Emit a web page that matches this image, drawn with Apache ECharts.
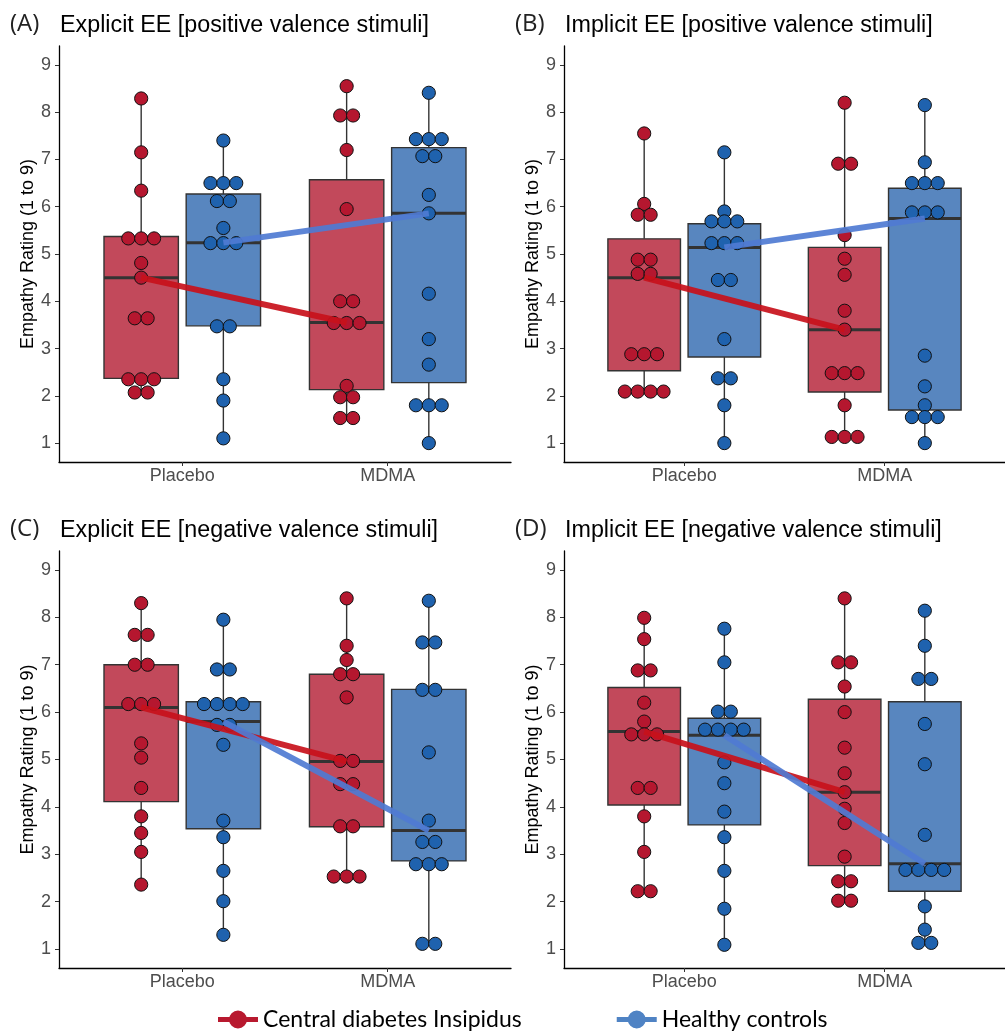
<!DOCTYPE html>
<html><head><meta charset="utf-8">
<script src="https://cdn.jsdelivr.net/npm/echarts@6/dist/echarts.min.js"></script>
<style>html,body{margin:0;padding:0;background:#fff}#c{width:1005px;height:1034px}</style>
</head><body><div id="c"></div>
<script>
// ---------- DATA ----------
const categories = ['Placebo', 'MDMA'];
const groups = ['Central diabetes Insipidus', 'Healthy controls'];
const yTicks = [1, 2, 3, 4, 5, 6, 7, 8, 9];
const panelLetters = ['(A)', '(B)', '(C)', '(D)'];
const panelTitles = [
  'Explicit EE [positive valence stimuli]',
  'Implicit EE [positive valence stimuli]',
  'Explicit EE [negative valence stimuli]',
  'Implicit EE [negative valence stimuli]'
];

// Panel A: Explicit, positive
const A_cdiPlacebo = [8.29, 7.15, 6.34, 5.33, 5.33, 5.33, 4.81, 4.50, 3.64, 3.64, 2.35, 2.35, 2.35, 2.07, 2.07];
const A_hcPlacebo  = [7.40, 6.50, 6.50, 6.50, 6.12, 6.12, 5.55, 5.23, 5.23, 5.23, 3.47, 3.47, 2.35, 1.90, 1.10];
const A_cdiMDMA    = [8.55, 7.93, 7.93, 7.20, 5.95, 4.00, 4.00, 3.54, 3.54, 3.54, 2.21, 1.97, 1.97, 1.53, 1.53];
const A_hcMDMA     = [8.41, 7.43, 7.43, 7.43, 7.07, 7.07, 6.25, 5.86, 4.16, 3.20, 2.66, 1.80, 1.80, 1.80, 1.00];
// box [q1, median, q3] in order cdiPlacebo, hcPlacebo, cdiMDMA, hcMDMA
const A_boxes = [[2.37, 4.50, 5.37], [3.48, 5.24, 6.27], [2.13, 3.55, 6.57], [2.28, 5.86, 7.25]];

// Panel B: Implicit, positive
const B_cdiPlacebo = [7.55, 6.06, 5.83, 5.83, 4.88, 4.88, 4.58, 4.58, 2.88, 2.88, 2.88, 2.09, 2.09, 2.09, 2.09];
const B_hcPlacebo  = [7.15, 5.90, 5.69, 5.69, 5.69, 5.23, 5.23, 5.23, 4.45, 4.45, 3.20, 2.37, 2.37, 1.80, 1.00];
const B_cdiMDMA    = [8.20, 6.91, 6.91, 5.40, 4.90, 4.56, 3.80, 3.40, 2.48, 2.48, 2.48, 1.80, 1.13, 1.13, 1.13];
const B_hcMDMA     = [8.15, 6.94, 6.50, 6.50, 6.50, 5.88, 5.88, 5.88, 2.85, 2.20, 1.80, 1.55, 1.55, 1.55, 1.00];
const B_boxes = [[2.53, 4.50, 5.32], [2.82, 5.14, 5.64], [2.08, 3.40, 5.14], [1.70, 5.75, 6.39]];

// Panel C: Explicit, negative
const C_cdiPlacebo = [8.30, 7.63, 7.63, 7.00, 7.00, 6.17, 6.17, 6.17, 5.34, 5.04, 4.40, 3.80, 3.45, 3.05, 2.36];
const C_hcPlacebo  = [7.95, 6.90, 6.90, 6.17, 6.17, 6.17, 6.17, 5.73, 5.73, 5.31, 3.71, 3.36, 2.65, 2.01, 1.30];
const C_cdiMDMA    = [8.40, 7.40, 7.10, 6.80, 6.80, 6.31, 4.97, 4.97, 4.48, 4.48, 3.59, 3.59, 2.53, 2.53, 2.53];
const C_hcMDMA     = [8.35, 7.47, 7.47, 6.47, 6.47, 5.15, 3.71, 3.26, 3.26, 2.79, 2.79, 2.79, 1.11, 1.11];
const C_boxes = [[4.11, 6.10, 7.00], [3.54, 5.80, 6.22], [3.58, 4.96, 6.80], [2.86, 3.50, 6.48]];

// Panel D: Implicit, negative
const D_cdiPlacebo = [7.99, 7.54, 6.88, 6.88, 6.20, 5.80, 5.53, 5.53, 5.53, 4.40, 4.40, 3.80, 3.05, 2.22, 2.22];
const D_hcPlacebo  = [7.76, 7.05, 6.01, 6.01, 5.63, 5.63, 5.63, 5.63, 4.94, 4.50, 3.90, 3.36, 2.65, 1.85, 1.09];
const D_cdiMDMA    = [8.40, 7.05, 7.05, 6.54, 6.00, 5.25, 4.71, 4.31, 3.96, 3.66, 2.95, 2.43, 2.43, 2.02, 2.02];
const D_hcMDMA     = [8.14, 7.40, 6.70, 6.70, 5.75, 4.90, 3.41, 2.67, 2.67, 2.67, 2.67, 1.90, 1.41, 1.13, 1.13];
const D_boxes = [[4.04, 5.59, 6.52], [3.62, 5.51, 5.87], [2.76, 4.31, 6.27], [2.22, 2.80, 6.22]];

// ---------- STYLE / LAYOUT ----------
const dotColors = ['#b5172f', '#1f62ae'];
const boxColors = ['#c2495b', '#5886bf'];
const trendColors = ['#c8111b', '#4f7bd2'];
const legendColors = ['#b8192f', '#4f83c4'];
const grids = [
  {left: 59, top: 46, width: 452, height: 416},
  {left: 564, top: 46, width: 452, height: 416},
  {left: 59, top: 551, width: 452, height: 417},
  {left: 564, top: 551, width: 452, height: 417}
];
const dodge = 0.2, boxHalf = 0.181, dotSpacing = 12.9, dotR = 6.6;
const AXF = "'Liberation Sans', Arial, sans-serif";

const panelDots = [
  [A_cdiPlacebo, A_hcPlacebo, A_cdiMDMA, A_hcMDMA],
  [B_cdiPlacebo, B_hcPlacebo, B_cdiMDMA, B_hcMDMA],
  [C_cdiPlacebo, C_hcPlacebo, C_cdiMDMA, C_hcMDMA],
  [D_cdiPlacebo, D_hcPlacebo, D_cdiMDMA, D_hcMDMA]
];
const panelBoxes = [A_boxes, B_boxes, C_boxes, D_boxes];
// group index k: 0 cdiPlacebo, 1 hcPlacebo, 2 cdiMDMA, 3 hcMDMA
function groupX(k) { const cat = k < 2 ? 1 : 2; const g = k % 2; return cat + (g === 0 ? -dodge : dodge); }

const xAxes = [], yAxes = [], series = [], graphics = [];
grids.forEach((g, p) => {
  xAxes.push({
    type: 'value', gridIndex: p, min: 0.4, max: 2.6,
    axisLine: {show: true, lineStyle: {color: '#000', width: 1.3}},
    axisTick: {show: true, length: 4, lineStyle: {color: '#333'}, customValues: [1, 2]},
    axisLabel: {customValues: [1, 2], formatter: v => categories[Math.round(v) - 1] || '',
      fontSize: 18, color: '#4d4d4d', fontFamily: AXF, margin: 5},
    splitLine: {show: false}
  });
  yAxes.push({
    type: 'value', gridIndex: p, min: 0.6, max: 9.4,
    name: 'Empathy Rating (1 to 9)', nameLocation: 'middle', nameGap: 21,
    nameTextStyle: {fontSize: 18, color: '#000', fontFamily: AXF},
    axisLine: {show: true, lineStyle: {color: '#000', width: 1.3}},
    axisTick: {show: true, length: 4, lineStyle: {color: '#333'}, customValues: yTicks},
    axisLabel: {customValues: yTicks, fontSize: 18, color: '#4d4d4d', fontFamily: AXF, margin: 8},
    splitLine: {show: false}
  });

  const dots = panelDots[p];
  const boxes = panelBoxes[p];
  // boxes + whiskers
  const boxData = boxes.map((b, k) => [groupX(k), Math.min(...dots[k]), b[0], b[1], b[2], Math.max(...dots[k]), k % 2]);
  series.push({
    type: 'custom', xAxisIndex: p, yAxisIndex: p, z: 2, silent: true,
    data: boxData,
    renderItem: (params, api) => {
      const x = api.value(0), ci = api.value(6);
      const pMin = api.coord([x, api.value(1)]), pQ1 = api.coord([x, api.value(2)]);
      const pMed = api.coord([x, api.value(3)]), pQ3 = api.coord([x, api.value(4)]);
      const pMax = api.coord([x, api.value(5)]);
      const xl = api.coord([x - boxHalf, 0])[0], xr = api.coord([x + boxHalf, 0])[0];
      return {type: 'group', children: [
        {type: 'line', shape: {x1: pMin[0], y1: pMin[1], x2: pQ1[0], y2: pQ1[1]}, style: {stroke: '#333', lineWidth: 1.4}},
        {type: 'line', shape: {x1: pQ3[0], y1: pQ3[1], x2: pMax[0], y2: pMax[1]}, style: {stroke: '#333', lineWidth: 1.4}},
        {type: 'rect', shape: {x: xl, y: pQ3[1], width: xr - xl, height: pQ1[1] - pQ3[1]},
          style: {fill: boxColors[ci], stroke: '#333', lineWidth: 1.4}},
        {type: 'line', shape: {x1: xl, y1: pMed[1], x2: xr, y2: pMed[1]}, style: {stroke: '#333', lineWidth: 3}}
      ]};
    }
  });
  // dots (centered horizontal stacks of equal values)
  const dotData = [];
  dots.forEach((arr, k) => {
    const counts = {};
    arr.forEach(v => { counts[v] = (counts[v] || 0) + 1; });
    const seen = {};
    arr.forEach(v => {
      const idx = seen[v] || 0; seen[v] = idx + 1;
      dotData.push([groupX(k), v, idx, counts[v], k % 2]);
    });
  });
  series.push({
    type: 'custom', xAxisIndex: p, yAxisIndex: p, z: 3, silent: true,
    data: dotData,
    renderItem: (params, api) => {
      const c = api.coord([api.value(0), api.value(1)]);
      const off = (api.value(2) - (api.value(3) - 1) / 2) * dotSpacing;
      return {type: 'circle', shape: {cx: c[0] + off, cy: c[1], r: dotR},
        style: {fill: dotColors[api.value(4)], stroke: '#111', lineWidth: 1}};
    }
  });
  // trend lines connecting medians
  [0, 1].forEach(gi => {
    series.push({
      type: 'line', name: groups[gi], xAxisIndex: p, yAxisIndex: p, z: 4,
      data: [[groupX(gi), boxes[gi][1]], [groupX(gi + 2), boxes[gi + 2][1]]],
      showSymbol: false, symbol: 'circle',
      itemStyle: {color: legendColors[gi]},
      lineStyle: {color: trendColors[gi], width: 6, opacity: 0.92},
      silent: true, animation: false
    });
  });
  // titles
  const tx = p % 2 === 0 ? 0 : 505, ty = p < 2 ? 0 : 505;
  graphics.push({type: 'text', left: tx + 10, top: ty + 12,
    style: {text: panelLetters[p], fontSize: 24, fontFamily: "'Open Sans', sans-serif", fill: '#222'}});
  graphics.push({type: 'text', left: tx + 60, top: ty + 14,
    style: {text: panelTitles[p], fontSize: 23.3, fontFamily: AXF, fill: '#000'}});
});

const chart = echarts.init(document.getElementById('c'), null, {renderer: 'canvas'});
chart.setOption({
  animation: false,
  grid: grids,
  xAxis: xAxes,
  yAxis: yAxes,
  series: series,
  graphic: graphics,
  legend: {
    data: groups.map((n, i) => ({name: n, itemStyle: {color: legendColors[i]}})),
    left: 213, top: 1003, itemWidth: 40, itemHeight: 18, itemGap: 95,
    icon: 'path://M0,6.5 L40,6.5 L40,11.5 L0,11.5 Z M20,0 A9,9 0 1,1 19.99,0 Z',
    textStyle: {fontFamily: 'Lato, sans-serif', fontSize: 23, color: '#000'},
    selectedMode: false
  }
});
</script></body></html>
